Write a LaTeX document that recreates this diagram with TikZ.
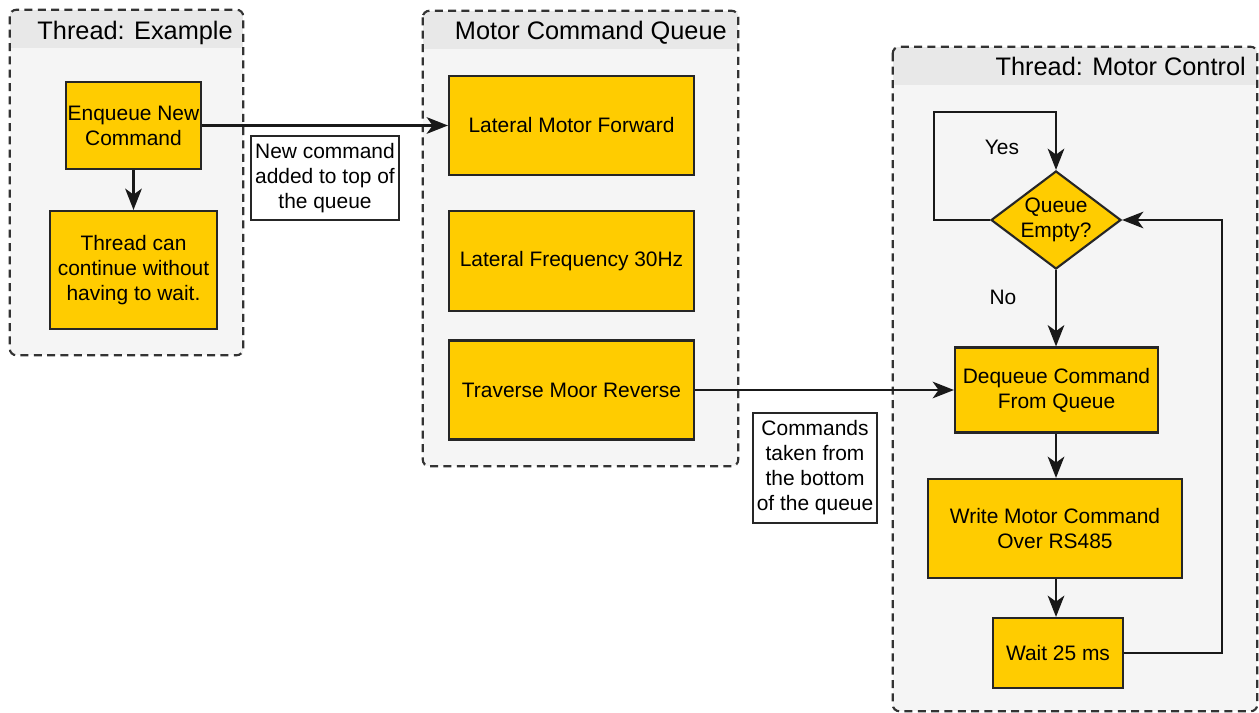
\documentclass[tikz,border=0pt]{standalone}
\usepackage{fontspec}
\setmainfont{Liberation Sans}
\usetikzlibrary{shapes.geometric,arrows.meta}
\definecolor{ylw}{HTML}{FFCC00}
\definecolor{contfill}{HTML}{F5F5F5}
\definecolor{hdrfill}{HTML}{E8E8E8}
\definecolor{bord}{HTML}{333333}
\begin{document}
\begin{tikzpicture}[x=0.75pt,y=-0.75pt,
  wh/.style 2 args={minimum width=#1*0.75pt, minimum height=#2*0.75pt},
  cont/.style={fill=contfill, inner sep=0pt},
  contborder/.style={draw=bord, line width=1.6pt, dash pattern=on 6pt off 4pt, rounded corners=5pt},
  ttl/.style={font=\fontsize{19}{22}\selectfont, inner sep=0pt},
  ybox/.style={draw=black!85, fill=ylw, line width=1.6pt, align=center, inner sep=0pt,
    font=\fontsize{15.7}{18.75}\selectfont},
  note/.style={draw=black!85, fill=white, line width=1.3pt, align=center, inner sep=0pt,
    font=\fontsize{15.7}{18.75}\selectfont},
  lbl/.style={font=\fontsize{15.7}{18.75}\selectfont, inner sep=0pt},
  conn/.style={line width=1.6pt, draw=black!90, -{Stealth[length=16pt,width=12.5pt,inset=4.5pt]}},
]
\useasboundingbox (0,0) rectangle (1259,713);

% containers
\node[cont, wh={233}{345}] (c1) at (126.5,182.5) {};
\node[cont, wh={315}{455}] (c2) at (580.5,238.5) {};
\node[cont, wh={364}{664}] (c3) at (1075,379) {};
\begin{scope}
  \clip[rounded corners=5pt] (c1.north west) rectangle (c1.south east);
  \fill[hdrfill] (c1.north west) rectangle ([yshift=-38*0.75pt]c1.north east);
\end{scope}
\begin{scope}
  \clip[rounded corners=5pt] (c2.north west) rectangle (c2.south east);
  \fill[hdrfill] (c2.north west) rectangle ([yshift=-38*0.75pt]c2.north east);
\end{scope}
\begin{scope}
  \clip[rounded corners=5pt] (c3.north west) rectangle (c3.south east);
  \fill[hdrfill] (c3.north west) rectangle ([yshift=-38*0.75pt]c3.north east);
\end{scope}
\draw[contborder] (c1.north west) rectangle (c1.south east);
\draw[contborder] (c2.north west) rectangle (c2.south east);
\draw[contborder] (c3.north west) rectangle (c3.south east);

\node[ttl, anchor=base east] (t1) at (233,40) {Thread: Example};
\node[ttl, anchor=base east] (t2) at (727,40) {Motor Command Queue};
\node[ttl, anchor=base east] (t3) at (1246,76) {Thread: Motor Control};

% thread example
\node[ybox, wh={135}{87}] (enq) at (133.5,125.5) {Enqueue New\\Command};
\node[ybox, wh={167}{118}] (cnt) at (133.5,270) {Thread can\\continue without\\having to wait.};

% queue
\node[ybox, wh={245}{99}] (lmf) at (571.5,125.5) {Lateral Motor Forward};
\node[ybox, wh={245}{100}] (lfq) at (571.5,261) {Lateral Frequency 30Hz};
\node[ybox, wh={245}{99}] (tmr) at (571.5,390) {Traverse Moor Reverse};

% motor control
\node[ybox, shape=diamond, aspect=1.33, wh={130}{98}] (dia) at (1056,220) {Queue\\Empty?};
\node[ybox, wh={203}{85}] (deq) at (1056.5,390) {Dequeue Command\\From Queue};
\node[ybox, wh={254}{99}] (wr) at (1055,528.5) {Write Motor Command\\Over RS485};
\node[ybox, wh={130}{70}] (wt) at (1058,653) {Wait 25 ms};

% notes
\node[note, wh={148}{84}] (n1) at (325,178) {New command\\added to top of\\the queue};
\node[note, wh={124}{110}] (n2) at (815,468) {Commands\\taken from\\the bottom\\of the queue};

\node[lbl] (yes) at (1002,147) {Yes};
\node[lbl] (no) at (1003,297) {No};

\coordinate (y1) at (934,112);
\coordinate (r1) at (1222,220);

% connectors
\draw[conn] (enq.south) -- (enq.south |- cnt.north);
\draw[conn] (enq.east) -- (enq.east -| lmf.west);
\draw[conn] (tmr.east) -- (tmr.east -| deq.west);
\draw[conn] (dia.west) -| (y1) -| (dia.north);
\draw[conn] (dia.south) -- (dia.south |- deq.north);
\draw[conn] (deq.south -| dia.south) -- (dia.south |- wr.north);
\draw[conn] (wr.south -| dia.south) -- (dia.south |- wt.north);
\draw[conn] (wt.east) -| (r1) -- (dia.east);
\end{tikzpicture}
\end{document}
